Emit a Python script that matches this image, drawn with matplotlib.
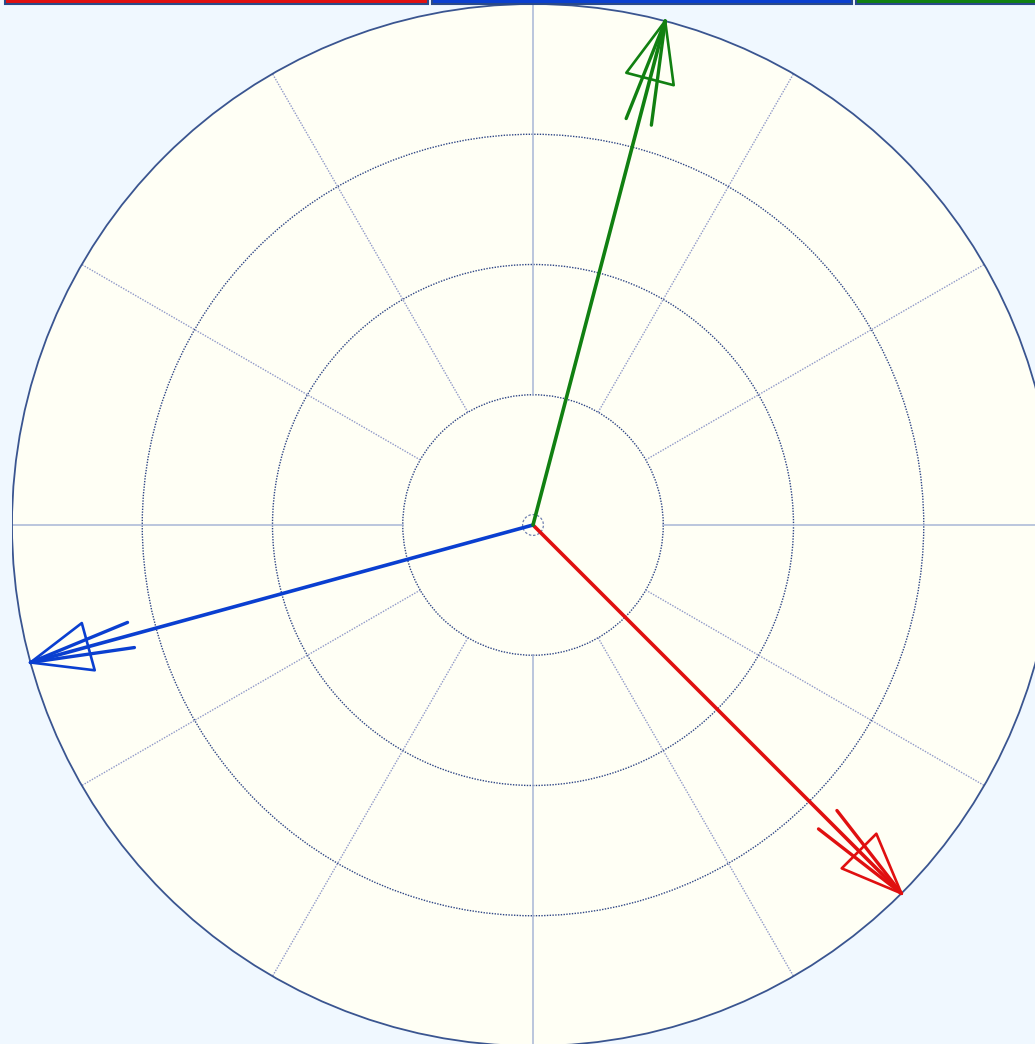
import numpy as np
import matplotlib
matplotlib.use("Agg")
import matplotlib.pyplot as plt
from matplotlib.patches import Circle, Rectangle, Polygon

# ---- data ----
phasor_names = ["A", "B", "C"]
phasor_mag = [1.0, 1.0, 1.0]
phasor_angle_deg = [-45.0, -164.7, 75.3]
phasor_colors = ["#E01010", "#0A3FD0", "#118011"]
ring_values = [0.25, 0.5, 0.75, 1.0]
spoke_angles_deg = list(range(0, 360, 30))

W, H, DPI = 1035, 1044, 100
fig = plt.figure(figsize=(W / DPI, H / DPI), dpi=DPI)
fig.patch.set_facecolor("#F0F8FF")

cx, cy, R = 533, 1044 - 525, 521
ax = fig.add_axes([(cx - R) / W, (cy - R) / H, 2 * R / W, 2 * R / H])
ax.set_xlim(-1, 1)
ax.set_ylim(-1, 1)
ax.set_aspect("equal")
ax.axis("off")

# plot area
ax.add_patch(Circle((0, 0), 1.0, facecolor="#FFFFF5", edgecolor="none", zorder=0))

# rings
for r in ring_values[:-1]:
    ax.add_patch(Circle((0, 0), r, facecolor="none", edgecolor="#2E4585",
                        lw=1.0, ls=(0, (1, 1)), zorder=1))
ax.add_patch(Circle((0, 0), ring_values[-1], facecolor="none", edgecolor="#3A5590",
                    lw=1.3, zorder=3))

# spokes
for a in spoke_angles_deg:
    t = np.deg2rad(a)
    if a % 90 == 0:
        style = dict(color="#A8B6D6", lw=1.1, ls="-")
    else:
        style = dict(color="#8F98C8", lw=1.0, ls=(0, (1, 1)))
    ax.plot([ring_values[0] * np.cos(t), np.cos(t)],
            [ring_values[0] * np.sin(t), np.sin(t)], zorder=1, **style)

# center marker
ax.add_patch(Circle((0, 0), 0.02, facecolor="none", edgecolor="#7080B0",
                    lw=0.9, ls=(0, (2, 1.5)), zorder=2))

# phasors
head_len, head_half = 0.115, 0.047
stroke_len, stroke_off = 0.20, 0.025
for m, ang, col in zip(phasor_mag, phasor_angle_deg, phasor_colors):
    t = np.deg2rad(ang)
    u = np.array([np.cos(t), np.sin(t)])
    p = np.array([-u[1], u[0]])
    tip = m * u
    ax.plot([0, tip[0]], [0, tip[1]], color=col, lw=2.6, solid_capstyle="round", zorder=5)
    # sketchy extra strokes
    for s in (-1, 1):
        end = tip - stroke_len * u + s * stroke_off * p
        ax.plot([tip[0], end[0]], [tip[1], end[1]], color=col, lw=2.4,
                solid_capstyle="round", zorder=5)
    # open arrowhead
    base = tip - head_len * u
    tri = [tip, base + head_half * p, base - head_half * p]
    ax.add_patch(Polygon(tri, closed=True, facecolor="none", edgecolor=col,
                         lw=1.9, joinstyle="round", zorder=6))

# clipped legend strip at top
strip = [(5, 428), (432, 852), (856, 1040)]
for (x0, x1), col in zip(strip, phasor_colors):
    fig.patches.append(Rectangle((x0 / W, 1 - 4 / H), (x1 - x0) / W, 10 / H,
                                 transform=fig.transFigure, facecolor=col,
                                 edgecolor="#2A4A8A", lw=1.5, zorder=10))

fig.savefig("out.png", dpi=DPI, facecolor=fig.get_facecolor())
